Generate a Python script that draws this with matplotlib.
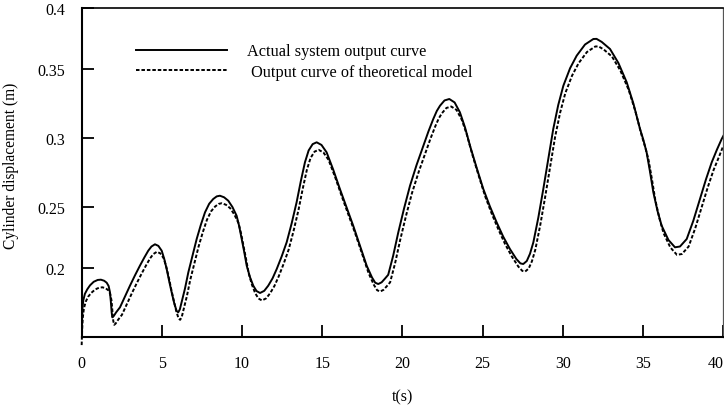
import matplotlib.pyplot as plt

t_actual = [0.00, 0.02, 0.05, 0.10, 0.20, 0.35, 0.52, 0.75, 1.00, 1.20,
            1.40, 1.56, 1.68, 1.76, 1.82, 1.87, 1.91, 2.00, 2.15, 2.39,
            2.70, 3.01, 3.32, 3.63, 3.90, 4.15, 4.35, 4.57, 4.78, 4.99,
            5.15, 5.30, 5.45, 5.61, 5.77, 5.92, 6.02, 6.12, 6.23, 6.44,
            6.65, 6.91, 7.17, 7.43, 7.69, 7.95, 8.20, 8.42, 8.62, 8.88,
            9.14, 9.40, 9.66, 9.82, 9.98, 10.14, 10.29, 10.50, 10.70, 10.90,
            11.12, 11.38, 11.63, 11.90, 12.16, 12.47, 12.78, 13.09, 13.40, 13.66,
            13.92, 14.15, 14.40, 14.65, 14.95, 15.27, 15.68, 16.10, 16.51, 16.93,
            17.35, 17.77, 18.10, 18.30, 18.49, 18.70, 18.90, 19.11, 19.42, 19.74,
            20.10, 20.47, 20.88, 21.30, 21.62, 21.92, 22.14, 22.34, 22.62, 22.92,
            23.25, 23.58, 23.90, 24.21, 24.62, 25.04, 25.45, 25.87, 26.28, 26.70,
            27.10, 27.35, 27.53, 27.75, 27.95, 28.16, 28.47, 28.78, 29.09, 29.40,
            29.71, 30.03, 30.45, 30.86, 31.38, 31.90, 32.10, 32.42, 32.94, 33.46,
            33.98, 34.40, 34.81, 35.02, 35.22, 35.43, 35.64, 35.90, 36.16, 36.58,
            36.99, 37.30, 37.72, 38.13, 38.55, 38.92, 39.28, 39.60, 39.90, 40.00]
y_actual = [0.1517, 0.1620, 0.1720, 0.1780, 0.1830, 0.1865, 0.1895, 0.1922, 0.1936, 0.1938,
            0.1930, 0.1915, 0.1890, 0.1845, 0.1770, 0.1690, 0.1652, 0.1662, 0.1690, 0.1728,
            0.1810, 0.1892, 0.1970, 0.2044, 0.2105, 0.2158, 0.2190, 0.2207, 0.2195, 0.2158,
            0.2095, 0.2019, 0.1930, 0.1842, 0.1760, 0.1700, 0.1690, 0.1712, 0.1766, 0.1870,
            0.1994, 0.2120, 0.2247, 0.2355, 0.2450, 0.2515, 0.2551, 0.2571, 0.2576, 0.2564,
            0.2538, 0.2490, 0.2424, 0.2345, 0.2247, 0.2145, 0.2044, 0.1955, 0.1892, 0.1852,
            0.1837, 0.1853, 0.1892, 0.1948, 0.2019, 0.2115, 0.2222, 0.2365, 0.2526, 0.2685,
            0.2830, 0.2920, 0.2968, 0.2982, 0.2962, 0.2906, 0.2775, 0.2627, 0.2488, 0.2348,
            0.2195, 0.2044, 0.1955, 0.1915, 0.1905, 0.1918, 0.1945, 0.1975, 0.2120, 0.2298,
            0.2480, 0.2652, 0.2810, 0.2956, 0.3065, 0.3159, 0.3220, 0.3260, 0.3300, 0.3311,
            0.3285, 0.3210, 0.3095, 0.2956, 0.2790, 0.2627, 0.2495, 0.2374, 0.2265, 0.2171,
            0.2095, 0.2062, 0.2057, 0.2080, 0.2135, 0.2222, 0.2410, 0.2627, 0.2855, 0.3083,
            0.3265, 0.3412, 0.3545, 0.3640, 0.3725, 0.3767, 0.3768, 0.3745, 0.3691, 0.3585,
            0.3438, 0.3275, 0.3083, 0.3000, 0.2906, 0.2760, 0.2602, 0.2460, 0.2348, 0.2240,
            0.2184, 0.2190, 0.2247, 0.2385, 0.2551, 0.2700, 0.2830, 0.2925, 0.3007, 0.3030]

t_model = [0.00, 0.03, 0.07, 0.14, 0.25, 0.40, 0.60, 0.85, 1.10, 1.30,
           1.50, 1.66, 1.78, 1.86, 1.92, 1.97, 2.03, 2.12, 2.27, 2.51,
           2.82, 3.13, 3.44, 3.75, 4.02, 4.27, 4.47, 4.69, 4.90, 5.11,
           5.27, 5.42, 5.57, 5.73, 5.89, 6.04, 6.14, 6.24, 6.35, 6.56,
           6.77, 7.03, 7.29, 7.55, 7.81, 8.07, 8.32, 8.54, 8.74, 9.00,
           9.26, 9.52, 9.78, 9.94, 10.10, 10.26, 10.41, 10.62, 10.82, 11.02,
           11.24, 11.50, 11.75, 12.02, 12.28, 12.59, 12.90, 13.21, 13.52, 13.78,
           14.04, 14.27, 14.52, 14.77, 15.07, 15.39, 15.80, 16.22, 16.63, 17.05,
           17.47, 17.89, 18.22, 18.42, 18.61, 18.82, 19.02, 19.23, 19.54, 19.86,
           20.22, 20.59, 21.00, 21.42, 21.74, 22.04, 22.26, 22.46, 22.74, 23.04,
           23.37, 23.70, 24.02, 24.33, 24.74, 25.16, 25.57, 25.99, 26.40, 26.82,
           27.22, 27.47, 27.65, 27.87, 28.07, 28.28, 28.59, 28.90, 29.21, 29.52,
           29.83, 30.15, 30.57, 30.98, 31.50, 32.02, 32.22, 32.54, 33.06, 33.58,
           34.10, 34.52, 34.93, 35.14, 35.34, 35.55, 35.76, 36.02, 36.28, 36.70,
           37.11, 37.42, 37.84, 38.25, 38.67, 39.04, 39.40, 39.72, 40.00]
y_model = [0.1441, 0.1560, 0.1650, 0.1720, 0.1770, 0.1808, 0.1838, 0.1864, 0.1878, 0.1880,
           0.1872, 0.1858, 0.1830, 0.1780, 0.1700, 0.1625, 0.1595, 0.1605, 0.1633, 0.1671,
           0.1753, 0.1835, 0.1913, 0.1987, 0.2048, 0.2101, 0.2133, 0.2150, 0.2138, 0.2101,
           0.2038, 0.1962, 0.1873, 0.1785, 0.1703, 0.1643, 0.1633, 0.1655, 0.1709, 0.1813,
           0.1937, 0.2063, 0.2190, 0.2298, 0.2393, 0.2458, 0.2494, 0.2514, 0.2519, 0.2507,
           0.2481, 0.2433, 0.2367, 0.2288, 0.2190, 0.2088, 0.1987, 0.1898, 0.1835, 0.1795,
           0.1780, 0.1796, 0.1835, 0.1891, 0.1962, 0.2058, 0.2165, 0.2308, 0.2469, 0.2628,
           0.2773, 0.2863, 0.2911, 0.2925, 0.2905, 0.2849, 0.2718, 0.2570, 0.2431, 0.2291,
           0.2138, 0.1987, 0.1898, 0.1858, 0.1848, 0.1861, 0.1888, 0.1918, 0.2063, 0.2241,
           0.2423, 0.2595, 0.2753, 0.2899, 0.3008, 0.3102, 0.3163, 0.3203, 0.3243, 0.3254,
           0.3228, 0.3153, 0.3038, 0.2899, 0.2733, 0.2570, 0.2438, 0.2317, 0.2208, 0.2114,
           0.2038, 0.2005, 0.2000, 0.2023, 0.2078, 0.2165, 0.2353, 0.2570, 0.2798, 0.3026,
           0.3208, 0.3355, 0.3488, 0.3583, 0.3668, 0.3710, 0.3711, 0.3688, 0.3634, 0.3528,
           0.3381, 0.3218, 0.3026, 0.2943, 0.2849, 0.2703, 0.2545, 0.2403, 0.2291, 0.2183,
           0.2127, 0.2133, 0.2190, 0.2328, 0.2494, 0.2643, 0.2773, 0.2868, 0.2955]

xticks = [0, 5, 10, 15, 20, 25, 30, 35, 40]
ytick_pos = [0.2024, 0.2488, 0.3012, 0.3536, 0.4]
ytick_labels = ['0.2', '0.25', '0.3', '0.35', '0.4']

plt.rcParams['font.family'] = 'Liberation Serif'

fig = plt.figure(figsize=(7.24, 4.06), dpi=100)
ax = fig.add_axes([0.1128, 0.1667, 0.8862, 0.8103])

ax.plot(t_actual, y_actual, color='black', lw=1.4, label='Actual system output curve')
ax.plot(t_model, y_model, color='black', lw=1.4, dashes=(1.8, 1.0),
        label=' Output curve of theoretical model', clip_on=False)

ax.set_xlim(0, 40)
ax.set_ylim(0.15, 0.4)
ax.set_xticks(xticks)
ax.set_yticks(ytick_pos)
ax.set_yticklabels(ytick_labels)
ax.tick_params(direction='in', length=8.5, width=1.3, labelsize=11.5, pad=12)
ax.tick_params(axis='x', pad=13)
ax.get_xticklabels()[-1].set_horizontalalignment('right')

for side in ['left', 'bottom']:
    ax.spines[side].set_linewidth(1.5)
ax.spines['top'].set_linewidth(1.2)
ax.spines['right'].set_linewidth(0.9)
ax.spines['right'].set_color('#555555')

ax.set_xlabel('t(s)', fontsize=11.5, labelpad=12)
ax.set_ylabel('Cylinder displacement (m)', fontsize=11.2)
ax.yaxis.set_label_coords(-0.0977, 0.524)

ax.legend(loc='center left', bbox_to_anchor=(0.0846, 0.838), frameon=False,
          fontsize=11.7, handlelength=5.6, handletextpad=1.25, labelspacing=0.3,
          borderpad=0, borderaxespad=0)

fig.savefig('out.png', dpi=100)
